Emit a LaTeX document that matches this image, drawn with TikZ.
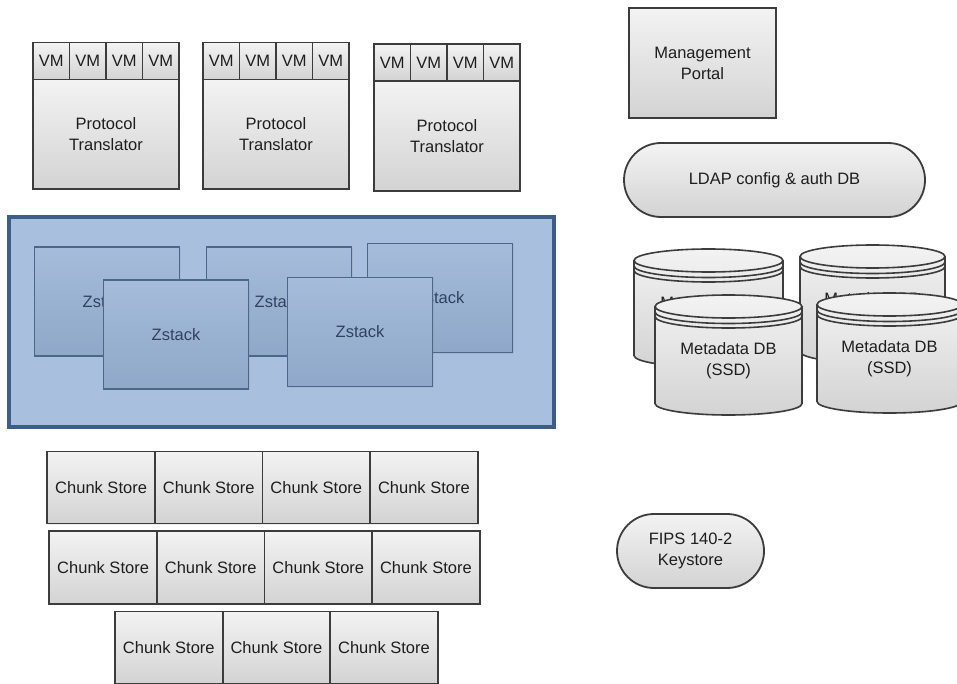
\documentclass[tikz,border=0pt]{standalone}
\usepackage{fontspec}
\setmainfont{Liberation Sans}
\usetikzlibrary{shadows}
\definecolor{gtop}{HTML}{F3F3F3}
\definecolor{gbot}{HTML}{D3D3D3}
\definecolor{gline}{HTML}{3C3C3C}
\definecolor{gtext}{HTML}{1E1E1E}
\definecolor{ctfill}{HTML}{A8C0DE}
\definecolor{ctline}{HTML}{3D5E89}
\definecolor{ztop}{HTML}{A5BCDA}
\definecolor{zbot}{HTML}{8FA8C9}
\definecolor{zline}{HTML}{4C6889}
\definecolor{ztext}{HTML}{2E435E}
\newcommand\dbcyl[5]{%
  \pgfmathsetmacro\cxx{(#2+#3)/2}%
  \pgfmathsetmacro\rxx{(#3-#2)/2}%
  \fill[top color=gtop,bottom color=gbot,drop shadow={opacity=0.15,shadow xshift=1pt,shadow yshift=-1pt}]
    (#2,#4+11.5) -- (#2,#5-11.5) arc[start angle=180,end angle=360,x radius=\rxx pt,y radius=11.5pt]
    -- (#3,#4+11.5) arc[start angle=0,end angle=180,x radius=\rxx pt,y radius=11.5pt] -- cycle;
  \draw[cylline] (#2,#4+11.5) -- (#2,#5-11.5) arc[start angle=180,end angle=360,x radius=\rxx pt,y radius=11.5pt] -- (#3,#4+11.5);
  \draw[cylline] (\cxx,#4+11.5) ellipse[x radius=\rxx pt,y radius=11.5pt];
  \draw[cylline] (#2,#4+17) arc[start angle=180,end angle=360,x radius=\rxx pt,y radius=11.5pt];
  \draw[cylline] (#2,#4+21.5) arc[start angle=180,end angle=360,x radius=\rxx pt,y radius=11.5pt];
  \node[text=gtext] (#1) at (\cxx,#4+66) {Metadata DB\\(SSD)};
}
\begin{document}
\begin{tikzpicture}[x=1pt,y=-1pt,
  every node/.style={font=\fontsize{16.5}{21}\selectfont, align=center, inner sep=0pt},
  graybox/.style={draw=gline, line width=1.8pt, top color=gtop, bottom color=gbot, text=gtext,
    drop shadow={opacity=0.15, shadow xshift=1pt, shadow yshift=-1pt}},
  vmbox/.style={graybox, minimum width=36.5pt, minimum height=37pt},
  ptbox/.style={graybox, minimum width=146pt, minimum height=110pt},
  chunkbox/.style={graybox, minimum width=107.6pt, minimum height=72pt},
  pillbox/.style={graybox, rounded corners=37pt, minimum height=74pt},
  container/.style={draw=ctline, fill=ctfill, line width=4.5pt},
  zbox/.style={draw=zline, line width=1.8pt, top color=ztop, bottom color=zbot, text=ztext,
    minimum width=145pt, minimum height=109pt,
    drop shadow={opacity=0.15, shadow xshift=1pt, shadow yshift=-1pt}},
  cylline/.style={draw=gline, line width=1.6pt}
]
\useasboundingbox (0,0) rectangle (957,684);

% Protocol translators with VMs
\foreach \i/\cx/\cy/\vy in {1/106/134/61, 2/276/134/61, 3/447/136/62.5}{
  \node[ptbox] (pt\i) at (\cx,\cy) {Protocol\\Translator};
  \foreach \j in {1,2,3,4}{
    \node[vmbox] (vm\i\j) at ({\cx-73+36.5*(\j-0.5)},\vy) {VM};
  }
}

% Zstack container
\node[container, minimum width=545pt, minimum height=210pt] (zc) at (281.5,322) {};
\node[zbox] (z1) at (107,301.5) {Zstack};
\node[zbox] (z2) at (279,301.5) {Zstack};
\node[zbox] (z3) at (440,298) {Zstack};
\node[zbox] (z4) at (176,334.5) {Zstack};
\node[zbox] (z5) at (360,332) {Zstack};

% Chunk stores
\foreach \j in {1,2,3,4}{
  \node[chunkbox] (cs1\j) at ({47.3+107.6*(\j-0.5)},487.5) {Chunk Store};
  \node[chunkbox, minimum height=73pt] (cs2\j) at ({49.3+107.6*(\j-0.5)},567.5) {Chunk Store};
}
\foreach \j in {1,2,3}{
  \node[chunkbox] (cs3\j) at ({115+107.6*(\j-0.5)},647.5) {Chunk Store};
}

% Right column
\node[graybox, minimum width=147pt, minimum height=110pt] (mp) at (702.5,63) {Management\\Portal};
\node[pillbox, minimum width=301pt] (ldap) at (774.5,180) {LDAP config \& auth DB};

\dbcyl{mdb1}{634}{783}{249}{367}
\dbcyl{mdb2}{800}{945}{245}{363}
\dbcyl{mdb3}{655}{802}{295}{415}
\dbcyl{mdb4}{817}{962}{293}{413}

\node[pillbox, minimum width=147pt] (fips) at (690.5,551) {FIPS 140-2\\Keystore};
\end{tikzpicture}
\end{document}
